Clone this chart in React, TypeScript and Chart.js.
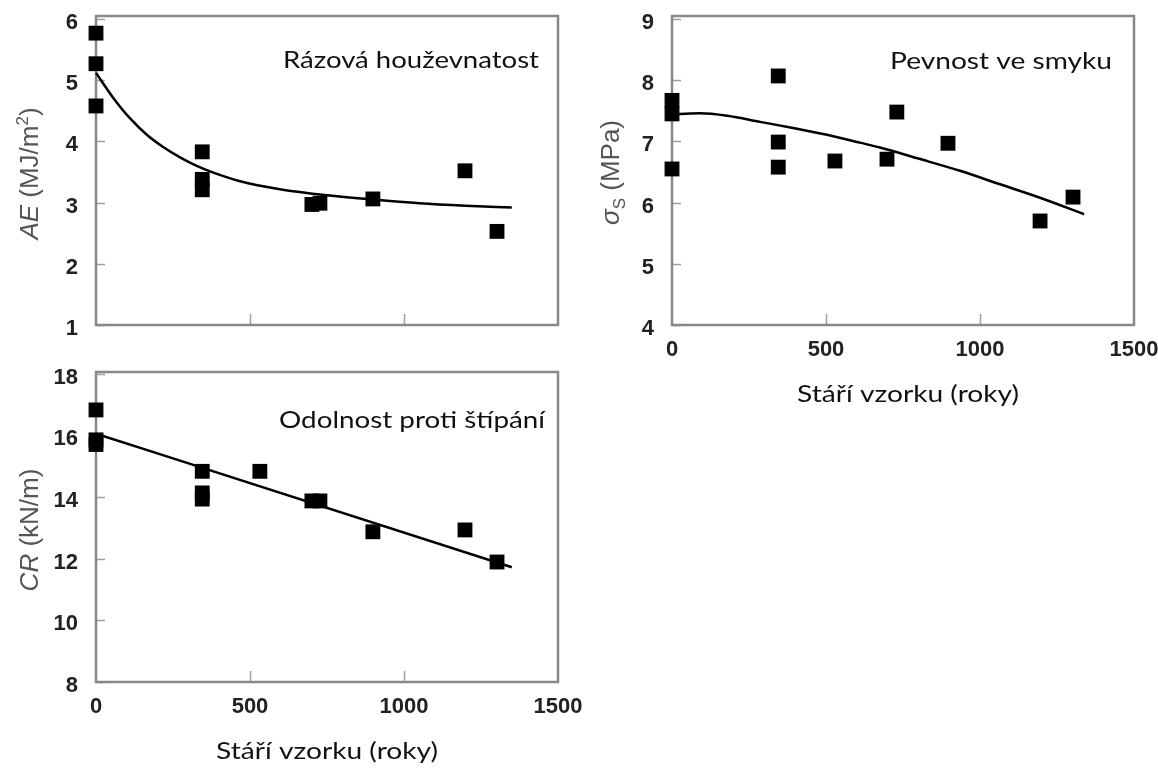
import React, { useEffect, useRef } from 'react';
import { Chart, registerables } from 'chart.js';

Chart.register(...registerables);

// ---------- data ----------
const ageTicks = [0, 500, 1000, 1500];

// Panel 1: Rázová houževnatost (AE, MJ/m2)
const aeTicks = [1, 2, 3, 4, 5, 6];
const aePointX = [0, 0, 0, 345, 345, 345, 701, 727, 899, 1198, 1302];
const aePointY = [5.77, 5.27, 4.58, 3.83, 3.38, 3.21, 2.97, 2.99, 3.06, 3.52, 2.53];
const aeCurveX = [0, 55, 110, 165, 218, 273, 327, 381, 468, 597, 750, 899, 1050, 1200, 1350];
const aeCurveY = [5.12, 4.72, 4.38, 4.11, 3.91, 3.74, 3.6, 3.49, 3.35, 3.22, 3.12, 3.05, 2.99, 2.95, 2.92];

// Panel 2: Pevnost ve smyku (σS, MPa)
const ssTicks = [4, 5, 6, 7, 8, 9];
const ssPointX = [0, 0, 0, 345, 345, 345, 529, 698, 730, 896, 1195, 1302];
const ssPointY = [7.67, 7.45, 6.55, 8.07, 6.99, 6.58, 6.68, 6.71, 7.48, 6.97, 5.7, 6.09];
const ssCurveX = [0, 26, 91, 179, 286, 393, 503, 610, 675, 800, 935, 1065, 1195, 1338];
const ssCurveY = [7.44, 7.45, 7.46, 7.42, 7.32, 7.22, 7.11, 6.98, 6.9, 6.72, 6.52, 6.3, 6.08, 5.81];

// Panel 3: Odolnost proti štípání (CR, kN/m)
const crTicks = [8, 10, 12, 14, 16, 18];
const crPointX = [0, 0, 0, 345, 345, 345, 532, 701, 727, 899, 1198, 1302];
const crPointY = [16.82, 15.85, 15.7, 14.83, 14.13, 13.93, 14.83, 13.87, 13.87, 12.87, 12.93, 11.89];
const crCurveX = [0, 1350];
const crCurveY = [16.05, 11.72];

const xTitleText = 'Stáří vzorku (roky)';

// ---------- types ----------
type Seg = { t: string; italic?: boolean; sub?: boolean; sup?: boolean };
interface PanelCfg {
  left: number; top: number; width: number; height: number;
  area: { left: number; top: number; right: number; bottom: number };
  yMin: number; yMax: number; yTicks: number[];
  showXLabels: boolean;
  px: number[]; py: number[]; cx: number[]; cy: number[];
  title: string; titleRight: number; titleBaseline: number; titleWidth: number;
  yTitle: Seg[]; yTitleX: number; yTitleDy: number;
  xTitle?: string; xTitleDx?: number; xTitleBaselineOff?: number;
}

const TICK_FONT = { family: '"Liberation Sans", Arial, sans-serif', size: 22, weight: 'bold' as const };
const YTITLE_FAMILY = '"Liberation Sans", Arial, sans-serif';
const LABEL_FAMILY = 'Lato, "Open Sans", sans-serif';

function drawStretched(ctx: CanvasRenderingContext2D, text: string, x: number, y: number, align: 'right' | 'center', targetW: number, size: number) {
  ctx.save();
  ctx.font = `${size}px ${LABEL_FAMILY}`;
  const w = ctx.measureText(text).width;
  const sx = w > 0 ? targetW / w : 1;
  ctx.translate(x, y);
  ctx.scale(sx, 1);
  ctx.textAlign = align;
  ctx.textBaseline = 'alphabetic';
  ctx.fillStyle = '#111';
  ctx.fillText(text, 0, 0);
  ctx.restore();
}

function drawRich(ctx: CanvasRenderingContext2D, segs: Seg[], cx: number, cy: number, size: number) {
  ctx.save();
  ctx.translate(cx, cy);
  ctx.rotate(-Math.PI / 2);
  ctx.fillStyle = '#555';
  ctx.textAlign = 'left';
  ctx.textBaseline = 'alphabetic';
  const fontFor = (s: Seg) => `${s.italic ? 'italic ' : ''}${s.sub || s.sup ? Math.round(size * 0.65) : size}px ${YTITLE_FAMILY}`;
  let total = 0;
  for (const s of segs) { ctx.font = fontFor(s); total += ctx.measureText(s.t).width; }
  let x = -total / 2;
  const base = size * 0.36;
  for (const s of segs) {
    ctx.font = fontFor(s);
    let y = base;
    if (s.sub) y += size * 0.22;
    if (s.sup) y -= size * 0.4;
    ctx.fillText(s.t, x, y);
    x += ctx.measureText(s.t).width;
  }
  ctx.restore();
}

const framePlugin = {
  id: 'frame',
  beforeDatasetsDraw(chart: any, _args: any, opts: any) {
    const { ctx, chartArea: a, scales } = chart;
    const cfg: PanelCfg = opts.cfg;
    ctx.save();
    ctx.strokeStyle = '#a0a0a0';
    ctx.lineWidth = 1.5;
    ctx.beginPath();
    for (const t of cfg.yTicks) {
      const py = Math.round(scales.y.getPixelForValue(t)) + 0.5;
      ctx.moveTo(a.left, py); ctx.lineTo(a.left + 9, py);
    }
    for (const t of ageTicks) {
      if (t <= 0 || t >= 1500) continue;
      const px = Math.round(scales.x.getPixelForValue(t)) + 0.5;
      ctx.moveTo(px, a.bottom); ctx.lineTo(px, a.bottom - 11);
    }
    ctx.stroke();
    ctx.strokeStyle = '#888';
    ctx.lineWidth = 2.5;
    ctx.strokeRect(a.left, a.top, a.right - a.left, a.bottom - a.top);
    ctx.restore();
  },
  afterDraw(chart: any, _args: any, opts: any) {
    const { ctx, chartArea: a } = chart;
    const cfg: PanelCfg = opts.cfg;
    drawStretched(ctx, cfg.title, cfg.titleRight, cfg.titleBaseline, 'right', cfg.titleWidth, 24);
    drawRich(ctx, cfg.yTitle, cfg.yTitleX, (a.top + a.bottom) / 2 + cfg.yTitleDy, 26);
    if (cfg.xTitle) {
      drawStretched(ctx, cfg.xTitle, (a.left + a.right) / 2 + (cfg.xTitleDx || 0), a.bottom + (cfg.xTitleBaselineOff || 77), 'center', 222, 24);
    }
  },
};

const panels: PanelCfg[] = [
  {
    left: 0, top: 0, width: 580, height: 345,
    area: { left: 96, top: 16, right: 558, bottom: 325 },
    yMin: 1, yMax: 6.05, yTicks: aeTicks, showXLabels: false,
    px: aePointX, py: aePointY, cx: aeCurveX, cy: aeCurveY,
    title: 'Rázová houževnatost', titleRight: 539, titleBaseline: 68, titleWidth: 256,
    yTitle: [{ t: 'AE', italic: true }, { t: ' (MJ/m' }, { t: '2', sup: true }, { t: ')' }],
    yTitleX: 29, yTitleDy: 3,
  },
  {
    left: 580, top: 0, width: 578, height: 420,
    area: { left: 92, top: 16, right: 554, bottom: 325 },
    yMin: 4, yMax: 9.05, yTicks: ssTicks, showXLabels: true,
    px: ssPointX, py: ssPointY, cx: ssCurveX, cy: ssCurveY,
    title: 'Pevnost ve smyku', titleRight: 532, titleBaseline: 69, titleWidth: 222,
    yTitle: [{ t: 'σ', italic: true }, { t: 'S', sub: true }, { t: ' (MPa)' }],
    yTitleX: 30, yTitleDy: 2,
    xTitle: xTitleText, xTitleDx: 5,
  },
  {
    left: 0, top: 345, width: 584, height: 426,
    area: { left: 96, top: 27, right: 558, bottom: 337 },
    yMin: 8, yMax: 18.05, yTicks: crTicks, showXLabels: true,
    px: crPointX, py: crPointY, cx: crCurveX, cy: crCurveY,
    title: 'Odolnost proti štípání', titleRight: 545, titleBaseline: 83, titleWidth: 266,
    yTitle: [{ t: 'CR', italic: true }, { t: ' (kN/m)' }],
    yTitleX: 29, yTitleDy: 3,
    xTitle: xTitleText, xTitleDx: 0,
  },
];

function Panel({ cfg }: { cfg: PanelCfg }) {
  const ref = useRef<HTMLCanvasElement | null>(null);
  useEffect(() => {
    if (!ref.current) return;
    const a = cfg.area;
    const points = cfg.px.map((x, i) => ({ x, y: cfg.py[i] }));
    const curve = cfg.cx.map((x, i) => ({ x, y: cfg.cy[i] }));
    const chart = new Chart(ref.current, {
      type: 'scatter',
      data: {
        datasets: [
          {
            data: curve, showLine: true, pointRadius: 0, borderColor: '#000', borderWidth: 2.5,
            cubicInterpolationMode: 'monotone', clip: false, fill: false,
          } as any,
          {
            data: points, showLine: false, pointStyle: 'rect', pointRadius: 10.5, pointHoverRadius: 10.5,
            backgroundColor: '#000', borderColor: '#000', borderWidth: 0, clip: false,
          } as any,
        ],
      },
      options: {
        responsive: false,
        animation: false,
        devicePixelRatio: 1,
        layout: { padding: { left: 0, top: a.top, right: cfg.width - a.right, bottom: 0 } },
        plugins: {
          legend: { display: false },
          tooltip: { enabled: false },
          frame: { cfg },
        } as any,
        scales: {
          x: {
            type: 'linear', min: 0, max: 1500,
            afterBuildTicks: (s: any) => { s.ticks = ageTicks.map((v) => ({ value: v })); },
            afterFit: (s: any) => {
              s.height = cfg.height - a.bottom;
              s.paddingLeft = 0; s.paddingRight = 0; s.paddingTop = 0; s.paddingBottom = 0;
            },
            grid: { display: false, drawTicks: false },
            border: { display: false },
            ticks: { display: cfg.showXLabels, padding: 12, font: TICK_FONT, color: '#222', callback: (v: any) => String(v) },
          },
          y: {
            type: 'linear', min: cfg.yMin, max: cfg.yMax,
            afterBuildTicks: (s: any) => { s.ticks = cfg.yTicks.map((v) => ({ value: v })); },
            afterFit: (s: any) => {
              s.width = a.left;
              s.paddingLeft = 0; s.paddingRight = 0; s.paddingTop = 0; s.paddingBottom = 0;
            },
            grid: { display: false, drawTicks: false },
            border: { display: false },
            ticks: { padding: 18, labelOffset: 4, font: TICK_FONT, color: '#222', callback: (v: any) => String(v) },
          },
        },
      } as any,
      plugins: [framePlugin as any],
    });
    return () => chart.destroy();
  }, [cfg]);
  return (
    <canvas
      ref={ref}
      width={cfg.width}
      height={cfg.height}
      style={{ position: 'absolute', left: cfg.left, top: cfg.top, width: cfg.width, height: cfg.height }}
    />
  );
}

export default function App() {
  return (
    <div style={{ position: 'absolute', left: 0, top: 0, width: 1158, height: 771, background: '#fff', overflow: 'hidden' }}>
      {panels.map((p, i) => (
        <Panel key={i} cfg={p} />
      ))}
    </div>
  );
}
